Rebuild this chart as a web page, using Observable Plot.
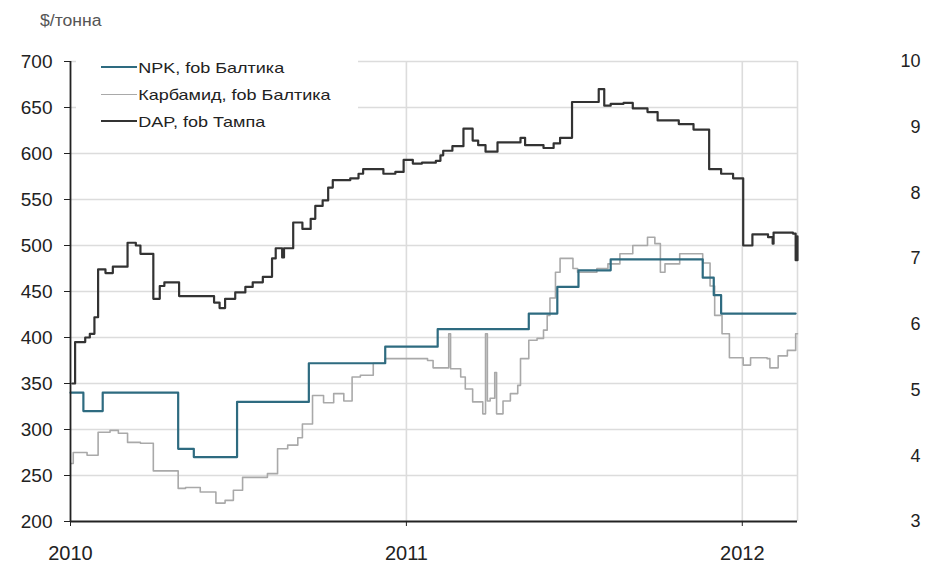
<!DOCTYPE html>
<html>
<head>
<meta charset="utf-8">
<script src="https://cdn.jsdelivr.net/npm/d3@7"></script>
<script src="https://cdn.jsdelivr.net/npm/@observablehq/plot@0.6"></script>
<style>
  html, body { margin: 0; padding: 0; background: #fff; }
  #wrap { position: relative; width: 926px; height: 566px; font-family: "Liberation Sans", Arial, sans-serif; }
  #unit { position: absolute; left: 40px; top: 12px; font-size: 16px; color: #555; transform: scaleX(1.1); transform-origin: left top; }
  #legend { position: absolute; left: 76px; top: 56px; width: 282px; height: 80px; background: #fff; }
  .row { position: absolute; left: 25px; height: 20px; display: flex; align-items: center; font-size: 15px; color: #222; transform: scaleX(1.2); transform-origin: left center; white-space: nowrap; }
  .sw { display: inline-block; width: 30px; height: 0; margin-right: 1px; }
</style>
</head>
<body>
<div id="wrap">
  <div id="chart"></div>
  <div id="unit">$/тонна</div>
  <div id="legend"></div>
</div>
<script>
// ---------- data ----------
const seriesNames = ["NPK, fob Балтика", "Карбамид, fob Балтика", "DAP, fob Тампа"];
const seriesColors = ["#2e6b80", "#a9a9a9", "#333333"];

const npkDates = ["2010-01-01","2010-01-15","2010-02-05","2010-04-28","2010-05-15","2010-07-01","2010-09-17","2010-12-09","2011-02-04","2011-05-14","2011-06-14","2011-07-07","2011-08-11","2011-11-19","2011-12-01","2011-12-09","2012-02-28"];
const npkValues = [340,320,340,279,270,330,372,390,409,426,455,473,485,465,446,426,426];

const ureaDates = ["2010-01-02","2010-01-04","2010-01-19","2010-01-31","2010-02-13","2010-02-22","2010-03-04","2010-03-18","2010-04-01","2010-04-28","2010-05-06","2010-05-22","2010-06-08","2010-06-18","2010-06-27","2010-07-07","2010-08-03","2010-08-14","2010-08-25","2010-09-05","2010-09-10","2010-09-21","2010-10-03","2010-10-14","2010-10-25","2010-11-03","2010-11-12","2010-11-26","2010-12-09","2011-01-24","2011-01-30","2011-02-16","2011-02-18","2011-03-01","2011-03-06","2011-03-14","2011-03-25","2011-03-28","2011-03-30","2011-04-02","2011-04-07","2011-04-09","2011-04-16","2011-04-24","2011-05-02","2011-05-05","2011-05-14","2011-05-23","2011-05-30","2011-06-03","2011-06-06","2011-06-12","2011-06-17","2011-07-01","2011-07-06","2011-07-27","2011-08-08","2011-08-21","2011-09-04","2011-09-20","2011-09-28","2011-10-04","2011-10-09","2011-10-25","2011-11-19","2011-11-27","2011-12-02","2011-12-10","2011-12-18","2012-01-02","2012-01-10","2012-01-28","2012-01-31","2012-02-09","2012-02-19","2012-02-28","2012-03-01"];
const ureaValues = [263,275,272,297,299,296,286,285,255,236,237,232,220,223,234,248,252,279,283,291,306,337,329,339,331,357,359,372,377,375,367,404,366,357,344,330,317,404,331,334,362,317,331,339,348,377,397,399,408,424,443,471,486,475,471,475,480,491,500,509,502,471,480,491,481,456,424,404,378,370,378,377,367,380,386,404,404];

const dapDates = ["2010-01-03","2010-01-06","2010-01-17","2010-01-22","2010-01-27","2010-01-31","2010-02-08","2010-02-16","2010-03-04","2010-03-13","2010-03-18","2010-04-01","2010-04-08","2010-04-13","2010-04-29","2010-06-06","2010-06-12","2010-06-18","2010-06-29","2010-07-10","2010-07-18","2010-07-29","2010-08-08","2010-08-12","2010-08-19","2010-08-21","2010-08-31","2010-09-10","2010-09-19","2010-09-24","2010-10-02","2010-10-08","2010-10-13","2010-11-01","2010-11-10","2010-11-15","2010-12-07","2010-12-20","2010-12-29","2011-01-08","2011-01-18","2011-02-02","2011-02-07","2011-02-10","2011-02-20","2011-03-04","2011-03-14","2011-03-20","2011-03-28","2011-04-10","2011-05-05","2011-05-10","2011-05-30","2011-06-10","2011-06-17","2011-06-30","2011-07-29","2011-08-04","2011-08-11","2011-08-25","2011-09-04","2011-09-20","2011-10-01","2011-10-24","2011-11-09","2011-11-26","2011-12-09","2011-12-22","2012-01-02","2012-01-12","2012-01-29","2012-02-03","2012-02-04","2012-02-25","2012-02-28","2012-03-01"];
const dapValues = [350,395,400,404,422,474,470,477,503,500,491,442,456,460,445,438,432,442,449,455,460,466,486,497,487,497,525,518,529,543,549,563,571,573,578,583,578,580,593,589,590,592,598,603,608,627,614,609,602,612,617,609,606,611,617,656,670,652,654,655,649,645,636,632,626,583,578,573,500,512,509,502,514,513,484,510];

const yTicks = [200,250,300,350,400,450,500,550,600,650,700];
const xTicks = ["2010-01-01","2011-01-01","2012-01-01"];
const xEnd = "2012-03-01";
const rightLabels = [3,4,5,6,7,8,9,10];

// ---------- build ----------
const toRows = (dates, values) => dates.map((d, i) => ({date: new Date(d), value: values[i]}));
const npk = toRows(npkDates, npkValues);
const urea = toRows(ureaDates, ureaValues);
const dap = toRows(dapDates, dapValues);
const xTickDates = xTicks.map(d => new Date(d));
const xStart = xTickDates[0];
const xEndDate = new Date(xEnd);
// right-hand scale 3..10 spans the same height as 200..700
const rightToLeft = v => yTicks[0] + (v - rightLabels[0]) * (yTicks[yTicks.length - 1] - yTicks[0]) / (rightLabels[rightLabels.length - 1] - rightLabels[0]);

const chart = Plot.plot({
  width: 926,
  height: 566,
  marginTop: 61,
  marginLeft: 70,
  marginRight: 129,
  marginBottom: 45,
  style: {fontFamily: "'Liberation Sans', Arial, sans-serif", fontSize: "19px", color: "#222", background: "#fff"},
  x: {type: "utc", domain: [xStart, xEndDate]},
  y: {domain: [yTicks[0], yTicks[yTicks.length - 1]]},
  marks: [
    Plot.ruleY(yTicks.slice(1), {stroke: "#dcdcdc", strokeWidth: 1.6}),
    Plot.ruleX([...xTickDates.slice(1), xEndDate], {stroke: "#dcdcdc", strokeWidth: 1.6}),
    Plot.line(urea, {x: "date", y: "value", curve: "step-after", stroke: seriesColors[1], strokeWidth: 1.6}),
    Plot.line(npk, {x: "date", y: "value", curve: "step-after", stroke: seriesColors[0], strokeWidth: 2.2}),
    Plot.line(dap, {x: "date", y: "value", curve: "step-after", stroke: seriesColors[2], strokeWidth: 2.2}),
    Plot.ruleX([xStart], {stroke: "#222", strokeWidth: 1.8}),
    Plot.ruleY([yTicks[0]], {stroke: "#222", strokeWidth: 1.8}),
    Plot.axisY({ticks: yTicks, tickSize: 6, tickPadding: 12, tickFormat: d => String(d), label: null, stroke: "#222", fontSize: 19}),
    Plot.axisX({ticks: xTickDates, tickSize: 5, tickPadding: 19, tickFormat: d3.utcFormat("%Y"), label: null, fontSize: 20}),
    Plot.text(rightLabels, {x: xEndDate, y: d => rightToLeft(d), text: d => String(d), dx: 123, textAnchor: "end", fontSize: 18, fill: "#222"})
  ]
});
document.getElementById("chart").appendChild(chart);

// legend
const legend = document.getElementById("legend");
seriesNames.forEach((name, i) => {
  const row = document.createElement("div");
  row.className = "row";
  row.style.top = (1 + i * 27) + "px";
  const sw = document.createElement("span");
  sw.className = "sw";
  sw.style.borderTop = (i === 1 ? 1.5 : 2) + "px solid " + seriesColors[i];
  row.appendChild(sw);
  row.appendChild(document.createTextNode(name));
  legend.appendChild(row);
});
</script>
</body>
</html>
